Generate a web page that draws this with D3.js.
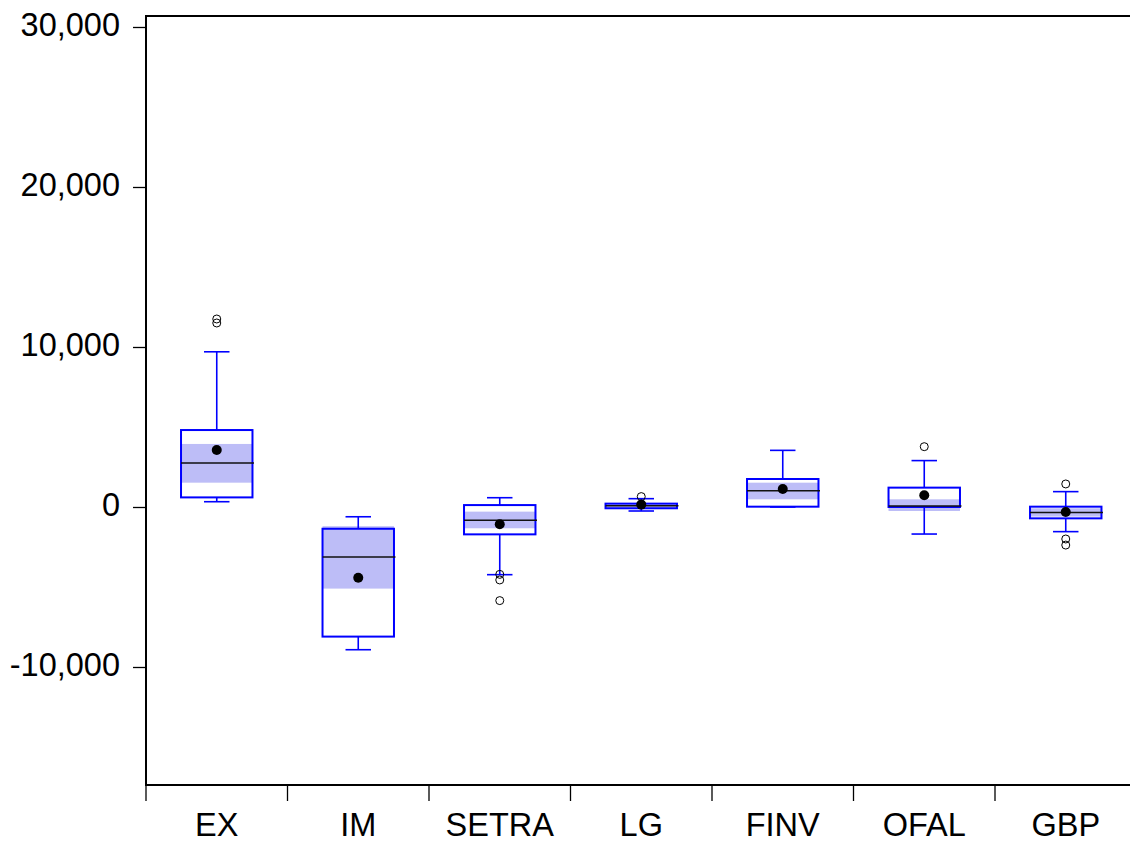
<!DOCTYPE html>
<html><head><meta charset="utf-8">
<script src="https://cdn.jsdelivr.net/npm/d3@7/dist/d3.min.js"></script>
<style>body{margin:0;background:#fff}svg{display:block}</style>
</head><body>
<script>
const categories = ["EX","IM","SETRA","LG","FINV","OFAL","GBP"];
const q1        = [600, -8100, -1710, -80, 20, 0, -710];
const q3        = [4810, -1360, 120, 210, 1750, 1210, 20];
const medians   = [2750, -3130, -830, 80, 1020, 60, -350];
const means     = [3560, -4420, -1080, 150, 1120, 730, -310];
const ciLow     = [1520, -5100, -1330, -60, 480, -250, -600];
const ciHigh    = [3940, -1200, -290, 170, 1520, 480, -80];
const whiskLow  = [330, -8920, -4230, -250, 0, -1690, -1540];
const whiskHigh = [9700, -610, 580, 520, 3540, 2900, 960];
const outliers  = [[11500, 11750], [], [-4210, -4560, -5850], [650], [], [3770], [1440, -2000, -2380]];
const yTicks    = [-10000, 0, 10000, 20000, 30000];

(function () {
const W = 1130, H = 845;
const mLeft = 146, mTop = 16, mBottom = 785, mRight = 1136.5;

const svg = d3.select("body").append("svg").attr("width", W).attr("height", H);

const x = d3.scaleBand().domain(categories).range([mLeft, mRight]).padding(0);
const y = d3.scaleLinear().domain([-17375, 30687]).range([mBottom, mTop]);

const font = "'Liberation Sans', Arial, sans-serif";
const loc = d3.formatLocale({decimal: ".", thousands: ",", grouping: [3], currency: ["$", ""], minus: "-"});

// frame
svg.append("rect").attr("x", mLeft).attr("y", mTop).attr("width", mRight - mLeft).attr("height", mBottom - mTop)
  .attr("fill", "none").attr("stroke", "#000").attr("stroke-width", 2);

// y axis
const ya = svg.append("g").attr("transform", `translate(${mLeft},0)`)
  .call(d3.axisLeft(y).tickValues(yTicks).tickFormat(loc.format(",")).tickSize(13).tickPadding(13));
ya.select(".domain").remove();
ya.selectAll(".tick line").attr("stroke", "#000").attr("stroke-width", 1.3);
ya.selectAll("text").attr("font-family", font).attr("font-size", 32.5).attr("fill", "#000")
  .attr("dy", "0.25em");

// x axis labels
const xa = svg.append("g").attr("transform", `translate(0,${mBottom})`)
  .call(d3.axisBottom(x).tickSize(0).tickPadding(28));
xa.select(".domain").remove();
xa.selectAll("text").attr("font-family", font).attr("font-size", 32.5).attr("fill", "#000");

// x boundary ticks
svg.append("g").selectAll("line").data(categories).join("line")
  .attr("x1", d => x(d)).attr("x2", d => x(d))
  .attr("y1", mBottom).attr("y2", mBottom + 16)
  .attr("stroke", "#000").attr("stroke-width", 1.3);

const bw = x.bandwidth();
const boxW = bw * 0.505;
const capW = bw * 0.18;
const blue = "#0000ff";

const g = svg.append("g").selectAll("g").data(categories).join("g")
  .attr("transform", d => `translate(${x(d) + bw / 2},0)`);

// CI shading
g.append("rect")
  .attr("x", -boxW / 2).attr("width", boxW)
  .attr("y", (d, i) => y(ciHigh[i])).attr("height", (d, i) => y(ciLow[i]) - y(ciHigh[i]))
  .attr("fill", "#bdbdf7");

// whiskers
g.append("line").attr("x1", 0).attr("x2", 0)
  .attr("y1", (d, i) => y(q3[i])).attr("y2", (d, i) => y(whiskHigh[i]))
  .attr("stroke", blue).attr("stroke-width", 1.6);
g.append("line").attr("x1", 0).attr("x2", 0)
  .attr("y1", (d, i) => y(q1[i])).attr("y2", (d, i) => y(whiskLow[i]))
  .attr("stroke", blue).attr("stroke-width", 1.6);
// caps
g.append("line").attr("x1", -capW / 2).attr("x2", capW / 2)
  .attr("y1", (d, i) => y(whiskHigh[i])).attr("y2", (d, i) => y(whiskHigh[i]))
  .attr("stroke", blue).attr("stroke-width", 1.6);
g.append("line").attr("x1", -capW / 2).attr("x2", capW / 2)
  .attr("y1", (d, i) => y(whiskLow[i])).attr("y2", (d, i) => y(whiskLow[i]))
  .attr("stroke", blue).attr("stroke-width", 1.6);

// box
g.append("rect")
  .attr("x", -boxW / 2).attr("width", boxW)
  .attr("y", (d, i) => y(q3[i])).attr("height", (d, i) => y(q1[i]) - y(q3[i]))
  .attr("fill", "none").attr("stroke", blue).attr("stroke-width", 2);

// median
g.append("line").attr("x1", -boxW / 2).attr("x2", boxW / 2 + 1.5)
  .attr("y1", (d, i) => y(medians[i])).attr("y2", (d, i) => y(medians[i]))
  .attr("stroke", "#111").attr("stroke-width", 1.5);

// mean
g.append("circle").attr("cx", 0).attr("cy", (d, i) => y(means[i])).attr("r", 5).attr("fill", "#000");

// outliers
g.selectAll("circle.out").data((d, i) => outliers[i]).join("circle").attr("class", "out")
  .attr("cx", 0).attr("cy", v => y(v)).attr("r", 4)
  .attr("fill", "none").attr("stroke", "#000").attr("stroke-width", 1);
})();
</script>
</body></html>
